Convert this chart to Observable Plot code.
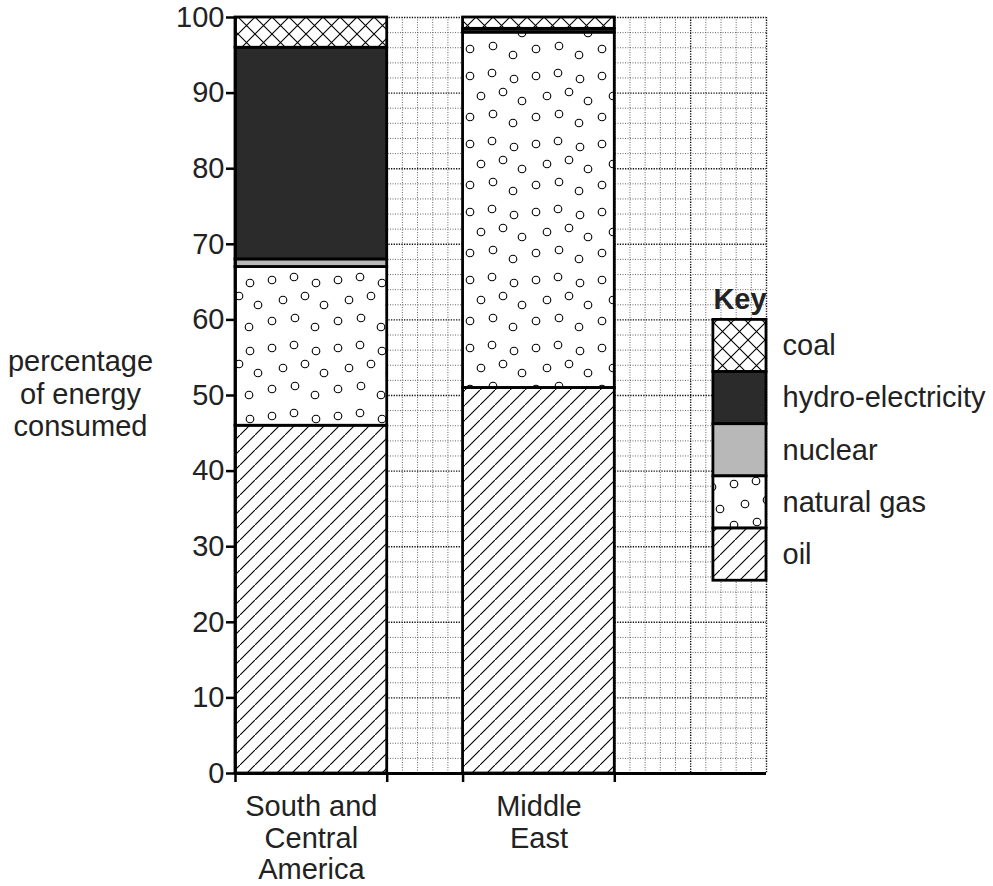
<!DOCTYPE html>
<html>
<head>
<meta charset="utf-8">
<script src="https://cdn.jsdelivr.net/npm/d3@7"></script>
<script src="https://cdn.jsdelivr.net/npm/@observablehq/plot@0.6"></script>
<style>
  html, body { margin: 0; padding: 0; background: white; }
</style>
</head>
<body>
<div id="chart"></div>
<script>
// ---- data ----
const regions = ["South and\nCentral\nAmerica", "Middle\nEast"];
const sources = ["oil", "natural gas", "nuclear", "hydro-electricity", "coal"];
const oil = [46, 51];
const naturalGas = [21, 47];
const nuclear = [1, 0];
const hydro = [28, 0.5];
const coal = [4, 1.5];
const yTicks = [0, 10, 20, 30, 40, 50, 60, 70, 80, 90, 100];
const keyOrder = ["coal", "hydro-electricity", "nuclear", "natural gas", "oil"];

// ---- layout (grid units) ----
const gridWidth = 35;      // squares across the graph paper
const barStarts = [0, 15];
const barWidth = 10;
const keyX1 = 31.5, keyTop = 60, keyStep = 6.9;

const fills = {
  "oil": "url(#pat-oil)",
  "natural gas": "url(#pat-gas)",
  "nuclear": "#b8b8b8",
  "hydro-electricity": "#2b2b2b",
  "coal": "url(#pat-coal)"
};

const seriesBySource = {
  "oil": oil, "natural gas": naturalGas, "nuclear": nuclear,
  "hydro-electricity": hydro, "coal": coal
};

// build stacked rows
const rows = [];
regions.forEach((r, i) => {
  let acc = 0;
  for (const s of sources) {
    const v = seriesBySource[s][i];
    rows.push({region: r, source: s, x1: barStarts[i], x2: barStarts[i] + barWidth, y1: acc, y2: acc + v});
    acc += v;
  }
});

const keyRows = keyOrder.map((s, i) => ({
  source: s, x1: keyX1, x2: gridWidth,
  y1: keyTop - keyStep * (i + 1), y2: keyTop - keyStep * i, yc: keyTop - keyStep * (i + 0.5)
}));

const minorX = d3.range(0, gridWidth + 1).filter(d => d % 5 !== 0);
const majorX = d3.range(5, gridWidth + 1, 5);
const minorY = d3.range(0, 101, 2).filter(d => d % 10 !== 0);
const majorY = d3.range(10, 101, 10);
const edges = barStarts.flatMap(b => [b, b + barWidth]);
const labelData = regions.map((r, i) => ({label: r, x: barStarts[i] + barWidth / 2}));

const ink = "#222";
const font = "Liberation Sans, Arial, Helvetica, sans-serif";
const fs = 29;

const marks = [
  // graph paper
  Plot.ruleX(minorX, {stroke: "#555", strokeWidth: 0.9, strokeDasharray: "1,1.5"}),
  Plot.ruleY(minorY, {stroke: "#555", strokeWidth: 0.9, strokeDasharray: "1,1.5"}),
  Plot.ruleX(majorX, {stroke: "#111", strokeWidth: 1.4, strokeDasharray: "1.3,1.3"}),
  Plot.ruleY(majorY, {stroke: "#111", strokeWidth: 1.4, strokeDasharray: "1.3,1.3"}),
  // bars
  ...sources.map(s => Plot.rect(rows.filter(d => d.source === s), {
    x1: "x1", x2: "x2", y1: "y1", y2: "y2", fill: fills[s], stroke: "black", strokeWidth: 2.8
  })),
  // axes
  Plot.ruleX([0], {stroke: "black", strokeWidth: 2.8}),
  Plot.ruleY([0], {stroke: "black", strokeWidth: 3}),
  Plot.axisY({ticks: yTicks, tickSize: 9, tickPadding: 2, fontSize: fs, stroke: "black", strokeWidth: 2.5, color: ink, label: null}),
  Plot.axisX({ticks: edges, tickSize: 9, tickFormat: () => "", stroke: "black", strokeWidth: 2.5, label: null}),
  Plot.text(labelData, {x: "x", text: "label", frameAnchor: "bottom", lineAnchor: "top", dy: 20, lineHeight: 1.09, fontSize: fs, fill: ink}),
  Plot.text(["percentage\nof energy\nconsumed"], {frameAnchor: "left", dx: -155, dy: -2, textAnchor: "middle", lineHeight: 1.12, fontSize: fs, fill: ink}),
  // key
  ...keyRows.map(k => Plot.rect([k], {x1: "x1", x2: "x2", y1: "y1", y2: "y2", fill: fills[k.source], stroke: "black", strokeWidth: 2.8})),
  Plot.text(keyRows, {x: "x2", y: "yc", text: "source", textAnchor: "start", dx: 16, fontSize: fs, fill: ink}),
  Plot.text(["Key"], {x: keyX1, y: keyTop, lineAnchor: "bottom", textAnchor: "start", dy: -11, fontSize: fs, fontWeight: "bold", fill: ink})
];

const svg = Plot.plot({
  width: 993,
  height: 886,
  marginLeft: 235,
  marginRight: 227,
  marginTop: 17,
  marginBottom: 113,
  style: {fontFamily: font, fontSize: fs + "px", background: "white", color: ink},
  x: {type: "linear", domain: [0, gridWidth], axis: null},
  y: {domain: [0, 100], axis: null},
  marks
});

// patterns
const defs = d3.select(svg).insert("defs", ":first-child");
const pOil = defs.append("pattern").attr("id", "pat-oil").attr("patternUnits", "userSpaceOnUse")
  .attr("width", 15).attr("height", 15);
pOil.append("rect").attr("width", 15).attr("height", 15).attr("fill", "white");
pOil.append("path").attr("d", "M-2,17 L17,-2 M-5,2 L2,-5 M13,20 L20,13").attr("stroke", "black").attr("stroke-width", 1.1);

const pCoal = defs.append("pattern").attr("id", "pat-coal").attr("patternUnits", "userSpaceOnUse")
  .attr("width", 17).attr("height", 17);
pCoal.append("rect").attr("width", 17).attr("height", 17).attr("fill", "white");
pCoal.append("path").attr("d", "M-2,19 L19,-2 M-2,-2 L19,19 M-4,2 L2,-4 M15,21 L21,15 M-4,15 L2,21 M15,-4 L21,2").attr("stroke", "black").attr("stroke-width", 1.1);

const pGas = defs.append("pattern").attr("id", "pat-gas").attr("patternUnits", "userSpaceOnUse")
  .attr("width", 66).attr("height", 68);
pGas.append("rect").attr("width", 66).attr("height", 68).attr("fill", "white");
const circ = [[8,8],[30,5],[52,11],[19,28],[41,24],[60,33],[8,49],[31,46],[51,55]];
circ.forEach(([cx, cy]) => pGas.append("circle").attr("cx", cx).attr("cy", cy).attr("r", 3.8)
  .attr("fill", "none").attr("stroke", "black").attr("stroke-width", 1.1));

document.getElementById("chart").appendChild(svg);
</script>
</body>
</html>
